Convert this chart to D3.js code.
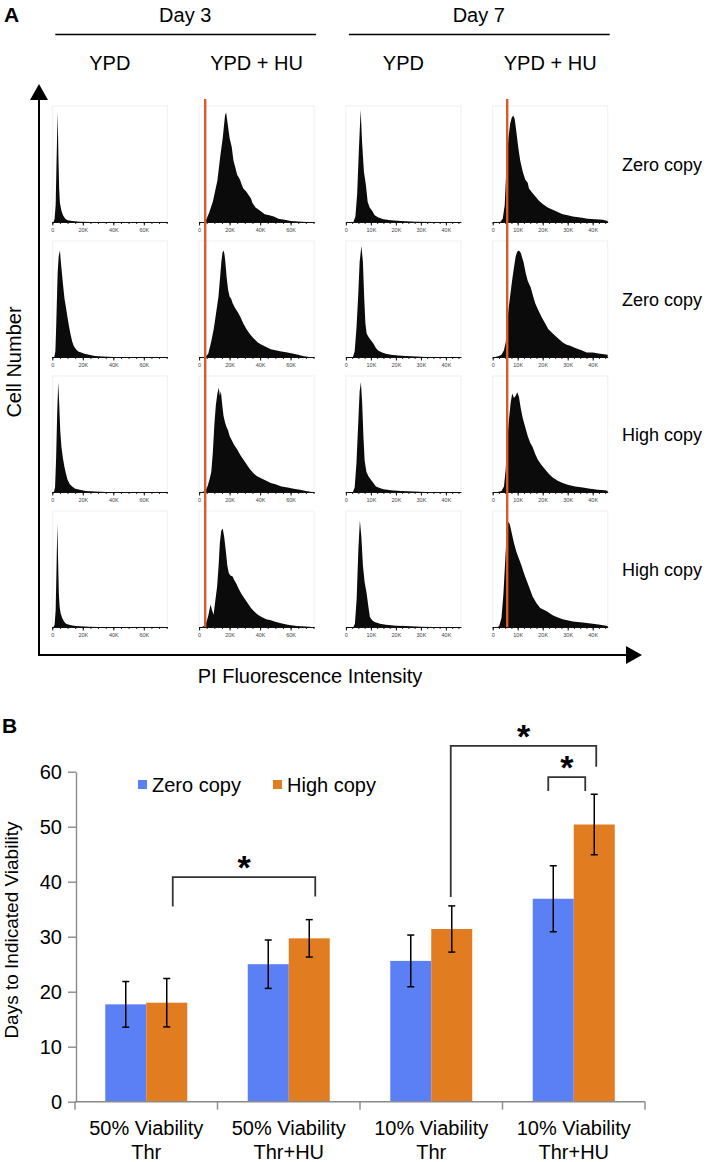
<!DOCTYPE html>
<html><head><meta charset="utf-8">
<script src="https://cdn.jsdelivr.net/npm/d3@7"></script>
<style>body{margin:0;background:#fff} svg{display:block} text{font-family:"Liberation Sans",Arial,sans-serif}</style>
</head><body><svg id="c" width="714" height="1162"></svg>
<script>
// ---------------- DATA: panel A ----------------
const dayLabels = ["Day 3", "Day 7"];
const mediaLabels = ["YPD", "YPD + HU", "YPD", "YPD + HU"];
const rowLabels = ["Zero copy", "Zero copy", "High copy", "High copy"];
const day3Ticks = [0, 20, 40, 60];          // PI intensity, thousands
const day7Ticks = [0, 10, 20, 30, 40];
const day3Max = 75.4, day7Max = 46;
const huGate = [null, 4, null, 5.8];       // red gate line, thousands
// histogram outlines: [intensity (K), relative cell count (%)]
const r1c1 = [[0.8,0],[1.5,3],[2.2,15],[2.8,55],[3.5,98],[4.0,60],[4.5,30],[5.0,17],[6,10],[7,6],[8.5,3],[10,1.5],[13,0.8],[18,0.3],[25,0]];
const r1c2 = [[4,0],[6.5,8],[9,18],[12,37],[14,60],[15.5,75],[17,95],[17.7,98],[18.5,90],[20,75],[21.4,67],[22.5,55],[23.5,50],[25,42],[26,40],[27,37],[28,33],[29,30],[31,27],[33,23],[34,21],[35,17],[37,13],[40,10],[43,7],[46,6],[49,5],[52,3],[56,2],[60,1],[65,0.5],[70,0]];
const r1c3 = [[3,0],[3.8,5],[4.5,25],[5.2,65],[5.9,100],[6.5,70],[7.2,45],[8,33],[8.7,18],[9.5,13],[10.5,10],[11.5,6],[13,4],[15,2.5],[18,1.5],[22,0.8],[28,0.3],[35,0]];
const r1c4 = [[3,0],[4,3],[4.8,15],[5.3,40],[5.8,60],[6.3,75],[7,88],[7.6,93],[8.2,95],[8.8,92],[9.5,80],[10.2,67],[11,55],[12,45],[13,38],[14,35],[14.5,30],[15.5,27],[17,23],[18.5,19],[20,16],[22,13],[24,11],[26,9],[28,7],[30,6],[32,5],[35,4],[38,3],[41,2.5],[44,2],[46,1]];
const r2c1 = [[1.3,0],[2,5],[2.5,25],[3,50],[3.5,75],[4.2,90],[5,95],[5.6,85],[6.3,75],[7,65],[8,52],[9,44],[10,35],[11,27],[12,20],[13,14],[14,10],[15.5,7],[17,5],[19,4],[21,3],[24,2],[28,1],[33,0.5],[40,0]];
const r2c2 = [[4,0],[6,3],[8,14],[9.6,25],[11,38],[12.7,54],[13.7,70],[14.6,85],[15.3,93],[16,95],[16.6,92],[17.2,85],[18,72],[19,60],[20,54],[21,52],[22,48],[23.5,44],[25.4,40],[27,36],[29,30],[31,25],[33,21],[35.5,17],[38.5,13],[41,11],[44,9],[47,7],[50,6],[54,5],[58,4],[62,3],[65,2],[68,1],[72,0]];
const r2c3 = [[2.8,0],[3.5,5],[4.2,25],[4.9,54],[5.5,85],[6.2,99],[6.8,85],[7.3,54],[7.8,30],[8.3,21],[9,18],[10,15],[11,12],[12,8],[13,5.5],[14.5,4],[16,3],[18,2],[21,1.3],[24,1],[28,0.4],[32,0]];
const r2c4 = [[1,0],[2.5,1],[3.5,2],[4.5,6],[5.2,13],[5.8,28],[6.2,40],[7,55],[7.8,69],[8.5,80],[9.2,90],[9.8,94],[10.5,95],[11.2,93],[12.3,85],[13.2,75],[14,68],[15.2,62],[16.2,54],[17,48],[18.2,42],[19.5,36],[21,30],[22.2,25],[24,21],[26,17],[28,13],[29.6,11],[31,10],[33,8],[35.5,6],[37.6,4],[40,4],[43,3],[46,2]];
const r3c1 = [[1,0],[1.8,4],[2.5,30],[3.2,70],[3.9,98],[4.5,80],[5.2,55],[6,40],[7,30],[8,22],[9,16],[10,11],[11.5,7],[13,5],[15,3],[18,2],[22,1],[28,0.4],[35,0]];
const r3c2 = [[2,0],[4,1],[5.5,5],[7,12],[8,18],[9,35],[10,60],[11,78],[12,88],[12.9,93],[13.6,86],[14.3,90],[15,80],[16,68],[17,62],[18,58],[19,55],[20,50],[21.5,46],[23,42],[25,38],[27,33],[29,29],[31,25],[33,21],[35.5,17],[38,14],[41,12],[44,10],[47,8],[50,7],[54,5],[58,4],[62,3],[66,2],[70,1],[74,0]];
const r3c3 = [[2.8,0],[3.5,4],[4.2,25],[4.9,60],[5.5,90],[6.0,98],[6.5,80],[7,50],[7.5,28],[8.2,18],[9,14],[10,11],[11,8],[12,5],[13.5,3.5],[15,2.5],[18,1.5],[22,1],[27,0.4],[32,0]];
const r3c4 = [[2,0],[3.5,1],[4.5,5],[5.2,20],[5.8,45],[6.5,65],[7.2,80],[7.8,88],[8.5,84],[9.2,86],[9.8,89],[10.5,85],[11.2,75],[12,66],[13,58],[14,50],[15,44],[16,40],[17,34],[18,29],[19.5,24],[21,20],[22.5,16],[24,13],[26,10],[28,8],[30,6.5],[33,5],[36,4],[39,3],[42,2],[45,1.5],[46,1]];
const r4c1 = [[0.8,0],[1.5,2],[2.2,15],[2.8,55],[3.3,92],[3.8,60],[4.3,30],[4.8,18],[5.5,12],[6.5,8],[7.7,5],[9,3],[11,2],[14,1.2],[18,0.6],[24,0.2],[30,0]];
const r4c2 = [[2,0],[3,1],[4.5,3],[6,10],[7.5,20],[8.5,15],[9.5,11],[10.5,22],[11.8,36],[12.8,55],[13.6,75],[14.5,86],[15.5,88],[16.5,80],[17.5,68],[18.5,55],[19.5,48],[20.5,46],[22,45],[23,42],[24.3,39],[26,34],[28,29],[30,25],[32,21],[34,17],[36,14],[38.5,11],[41,9],[44,7],[47,6],[49.4,5],[53,3.5],[58,2],[64,1],[70,0.5],[74,0]];
const r4c3 = [[3,0],[3.6,3],[4.3,25],[5,70],[5.6,95],[6.2,80],[6.8,55],[7.5,40],[8.3,30],[9,18],[9.6,9],[10.5,6],[11.5,4.5],[13.6,3],[16,2],[20,1.2],[24,0.8],[30,0.3],[35,0]];
const r4c4 = [[2,0],[2.6,1],[3.5,8],[4.3,30],[4.9,55],[5.5,80],[6.2,94],[6.8,92],[7.5,85],[8.5,75],[9.5,67],[10.5,61],[11.5,55],[12.5,48],[13.5,42],[15,33],[16,27],[17.6,21],[19,17],[21.6,14],[24,10.5],[25.6,9],[28,7],[32,5],[36,4],[40,3],[43,2],[46,1]];
const histRows = [[r1c1,r1c2,r1c3,r1c4],[r2c1,r2c2,r2c3,r2c4],[r3c1,r3c2,r3c3,r3c4],[r4c1,r4c2,r4c3,r4c4]];

// ---------------- DATA: panel B ----------------
const categories = [["50% Viability","Thr"],["50% Viability","Thr+HU"],["10% Viability","Thr"],["10% Viability","Thr+HU"]];
const seriesNames = ["Zero copy", "High copy"];
const zeroCopy    = [17.7, 25.0, 25.6, 36.9];
const zeroCopyErr = [4.15, 4.4, 4.7, 6.0];
const highCopy    = [18.0, 29.7, 31.4, 50.4];
const highCopyErr = [4.4, 3.4, 4.2, 5.5];
const yTicksB = [0, 10, 20, 30, 40, 50, 60];
// significance brackets: from [category, series] to [category, series], bar level and leg ends (days)
const brackets = [
  {from:[0,1], to:[1,1], level:40.85, leftEnd:35.5, rightEnd:37.3},
  {from:[2,1], to:[3,1], level:64.7, leftEnd:37.2, rightEnd:60.9},
  {from:[3,0], to:[3,1], level:59.0, leftEnd:56.5, rightEnd:56.5}
];

// ---------------- STYLE / LAYOUT ----------------
const svg = d3.select("#c");
const BLUE = "#5b80f5", ORANGE = "#e17c21", RED = "#d95a2b";
const bracketDx = [[6, 6], [-1, 2], [-5, -9]];

// ================= PANEL A =================
const colStart = d3.scalePoint().domain(d3.range(4)).range([52.3, 492.7]);
const rowBase = d3.scalePoint().domain(d3.range(4)).range([222, 627]);
const panelW = 115, panelH = 112;
const colMax = [day3Max, day3Max, day7Max, day7Max];
const colTicks = [day3Ticks, day3Ticks, day7Ticks, day7Ticks];
const colMinor = [5, 5, 2.5, 2.5];
const colX = c => d3.scaleLinear().domain([0, colMax[c]]).range([colStart(c), colStart(c) + panelW]);

svg.append("text").attr("x", 4).attr("y", 22).attr("font-size", 21).attr("font-weight", "bold").text("A");

// day headers + lines
dayLabels.forEach((d, i) => {
  const a = colStart(i * 2), b = colStart(i * 2 + 1) + panelW;
  svg.append("text").attr("x", (a + b) / 2 + 2).attr("y", 22).attr("text-anchor", "middle").attr("font-size", 20).text(d);
  svg.append("line").attr("x1", a + 3).attr("x2", b + 2).attr("y1", 34.5).attr("y2", 34.5).attr("stroke", "#000").attr("stroke-width", 1.6);
});
mediaLabels.forEach((m, c) => {
  svg.append("text").attr("x", colStart(c) + panelW / 2).attr("y", 70).attr("text-anchor", "middle").attr("font-size", 20).text(m);
});

histRows.forEach((row, r) => {
  const base = rowBase(r);
  const y = d3.scaleLinear().domain([0, 100]).range([base, base - panelH]);
  row.forEach((pts, c) => {
    const x = colX(c);
    const g = svg.append("g");
    g.append("rect").attr("x", x.range()[0]).attr("y", base - panelH - 4).attr("width", panelW).attr("height", panelH + 4)
      .attr("fill", "none").attr("stroke", "#f0f0f0").attr("stroke-width", 1);
    g.append("path").datum(pts)
      .attr("d", d3.area().x(d => x(d[0])).y0(base).y1(d => y(d[1])).curve(d3.curveLinear))
      .attr("fill", "#0b0b0b");
    const minorVals = d3.range(0, colMax[c], colMinor[c]);
    const minorAxis = g.append("g").attr("transform", `translate(0,${base})`)
      .call(d3.axisBottom(x).tickValues(minorVals).tickSize(2).tickFormat(""));
    minorAxis.select(".domain").remove();
    minorAxis.selectAll("line").attr("stroke", "#222");
    const ax = g.append("g").attr("transform", `translate(0,${base})`)
      .call(d3.axisBottom(x).tickValues(colTicks[c]).tickSize(3.5).tickSizeOuter(0).tickPadding(3)
        .tickFormat(d => d === 0 ? "0" : d + "K"));
    ax.select(".domain").attr("stroke", "#111").attr("stroke-width", 1);
    ax.selectAll("line").attr("stroke", "#111");
    ax.selectAll("text").attr("font-size", 5.5).attr("fill", "#444").attr("font-family", "'Liberation Sans',Arial,sans-serif");
  });
  svg.append("text").attr("x", 622).attr("y", base - 57).attr("dy", "0.35em").attr("font-size", 18).text(rowLabels[r]);
});

// red gate lines
huGate.forEach((gv, c) => {
  if (gv === null) return;
  const x = colX(c);
  svg.append("line").attr("x1", x(gv)).attr("x2", x(gv)).attr("y1", 99).attr("y2", rowBase(3))
    .attr("stroke", RED).attr("stroke-width", 2.4);
});

// big axes with arrows
const axX = 39, axY = 655;
svg.append("line").attr("x1", axX).attr("x2", axX).attr("y1", 97).attr("y2", axY).attr("stroke", "#000").attr("stroke-width", 2);
svg.append("line").attr("x1", axX - 1).attr("x2", 628).attr("y1", axY).attr("y2", axY).attr("stroke", "#000").attr("stroke-width", 2);
svg.append("path").attr("d", `M${axX},84 L${axX - 9},100 L${axX + 9},100 Z`).attr("fill", "#000");
svg.append("path").attr("d", `M642,${axY} L626,${axY - 9} L626,${axY + 9} Z`).attr("fill", "#000");
svg.append("text").attr("transform", `translate(21,362) rotate(-90)`).attr("text-anchor", "middle").attr("font-size", 20).text("Cell Number");
svg.append("text").attr("x", 310).attr("y", 683).attr("text-anchor", "middle").attr("font-size", 20).text("PI Fluorescence Intensity");

// ================= PANEL B =================
svg.append("text").attr("x", 2).attr("y", 733).attr("font-size", 21).attr("font-weight", "bold").text("B");

const yB = d3.scaleLinear().domain([0, 60]).range([1101.7, 771.7]);
const xB = d3.scaleBand().domain(d3.range(categories.length)).range([75, 645]);
const xS = d3.scaleBand().domain(seriesNames).range([0, xB.bandwidth()]).paddingInner(0).paddingOuter(0.738);
const vals = [zeroCopy, highCopy], errs = [zeroCopyErr, highCopyErr], cols = [BLUE, ORANGE];

const yAx = svg.append("g").attr("transform", "translate(76,0)")
  .call(d3.axisLeft(yB).tickValues(yTicksB).tickSize(8).tickSizeOuter(0).tickPadding(6));
yAx.select(".domain").attr("stroke", "#8a8a8a").attr("stroke-width", 1.4);
yAx.selectAll("line").attr("stroke", "#8a8a8a").attr("stroke-width", 1.4);
yAx.selectAll("text").attr("font-size", 20).attr("fill", "#000").attr("font-family", "'Liberation Sans',Arial,sans-serif");

// bars
seriesNames.forEach((s, si) => {
  svg.append("g").selectAll("rect").data(vals[si]).join("rect")
    .attr("x", (d, i) => xB(i) + xS(s)).attr("width", xS.bandwidth())
    .attr("y", d => yB(d)).attr("height", d => yB(0) - yB(d)).attr("fill", cols[si]);
});
// x axis
svg.append("line").attr("x1", xB.range()[0]).attr("x2", xB.range()[1]).attr("y1", yB(0)).attr("y2", yB(0)).attr("stroke", "#8a8a8a").attr("stroke-width", 1.4);
const bounds = xB.domain().map(i => xB(i)).concat([xB.range()[1]]);
svg.append("g").selectAll("line").data(bounds).join("line")
  .attr("x1", d => d).attr("x2", d => d).attr("y1", yB(0)).attr("y2", yB(0) + 8).attr("stroke", "#8a8a8a").attr("stroke-width", 1.4);
categories.forEach((lines, i) => {
  const t = svg.append("text").attr("x", xB(i) + xB.bandwidth() / 2).attr("y", 1135).attr("text-anchor", "middle").attr("font-size", 20);
  lines.forEach((l, k) => t.append("tspan").attr("x", xB(i) + xB.bandwidth() / 2).attr("dy", k ? 24 : 0).text(l));
});
// error bars
seriesNames.forEach((s, si) => {
  vals[si].forEach((v, i) => {
    const cx = xB(i) + xS(s) + xS.bandwidth() / 2;
    const lo = yB(v - errs[si][i]), hi = yB(v + errs[si][i]);
    const g = svg.append("g").attr("stroke", "#000").attr("stroke-width", 1.5);
    g.append("line").attr("x1", cx).attr("x2", cx).attr("y1", lo).attr("y2", hi);
    g.append("line").attr("x1", cx - 3.5).attr("x2", cx + 3.5).attr("y1", lo).attr("y2", lo);
    g.append("line").attr("x1", cx - 3.5).attr("x2", cx + 3.5).attr("y1", hi).attr("y2", hi);
  });
});
// brackets
brackets.forEach((b, k) => {
  const xa = xB(b.from[0]) + xS(seriesNames[b.from[1]]) + xS.bandwidth() / 2 + bracketDx[k][0];
  const xb = xB(b.to[0]) + xS(seriesNames[b.to[1]]) + xS.bandwidth() / 2 + bracketDx[k][1];
  svg.append("path").attr("d", `M${xa},${yB(b.leftEnd)} L${xa},${yB(b.level)} L${xb},${yB(b.level)} L${xb},${yB(b.rightEnd)}`)
    .attr("fill", "none").attr("stroke", "#333").attr("stroke-width", 1.8);
  svg.append("text").attr("x", (xa + xb) / 2).attr("y", yB(b.level) + 2).attr("text-anchor", "middle")
    .attr("font-size", 34).attr("font-weight", "bold").text("*");
});
// legend
seriesNames.forEach((s, si) => {
  const lx = [138, 273][si];
  svg.append("rect").attr("x", lx).attr("y", 780).attr("width", 9).attr("height", 9).attr("fill", cols[si]);
  svg.append("text").attr("x", lx + 14).attr("y", 792).attr("font-size", 20).text(s);
});
// y title
svg.append("text").attr("transform", "translate(18,930) rotate(-90)").attr("text-anchor", "middle").attr("font-size", 19).text("Days to Indicated Viability");
</script></body></html>
